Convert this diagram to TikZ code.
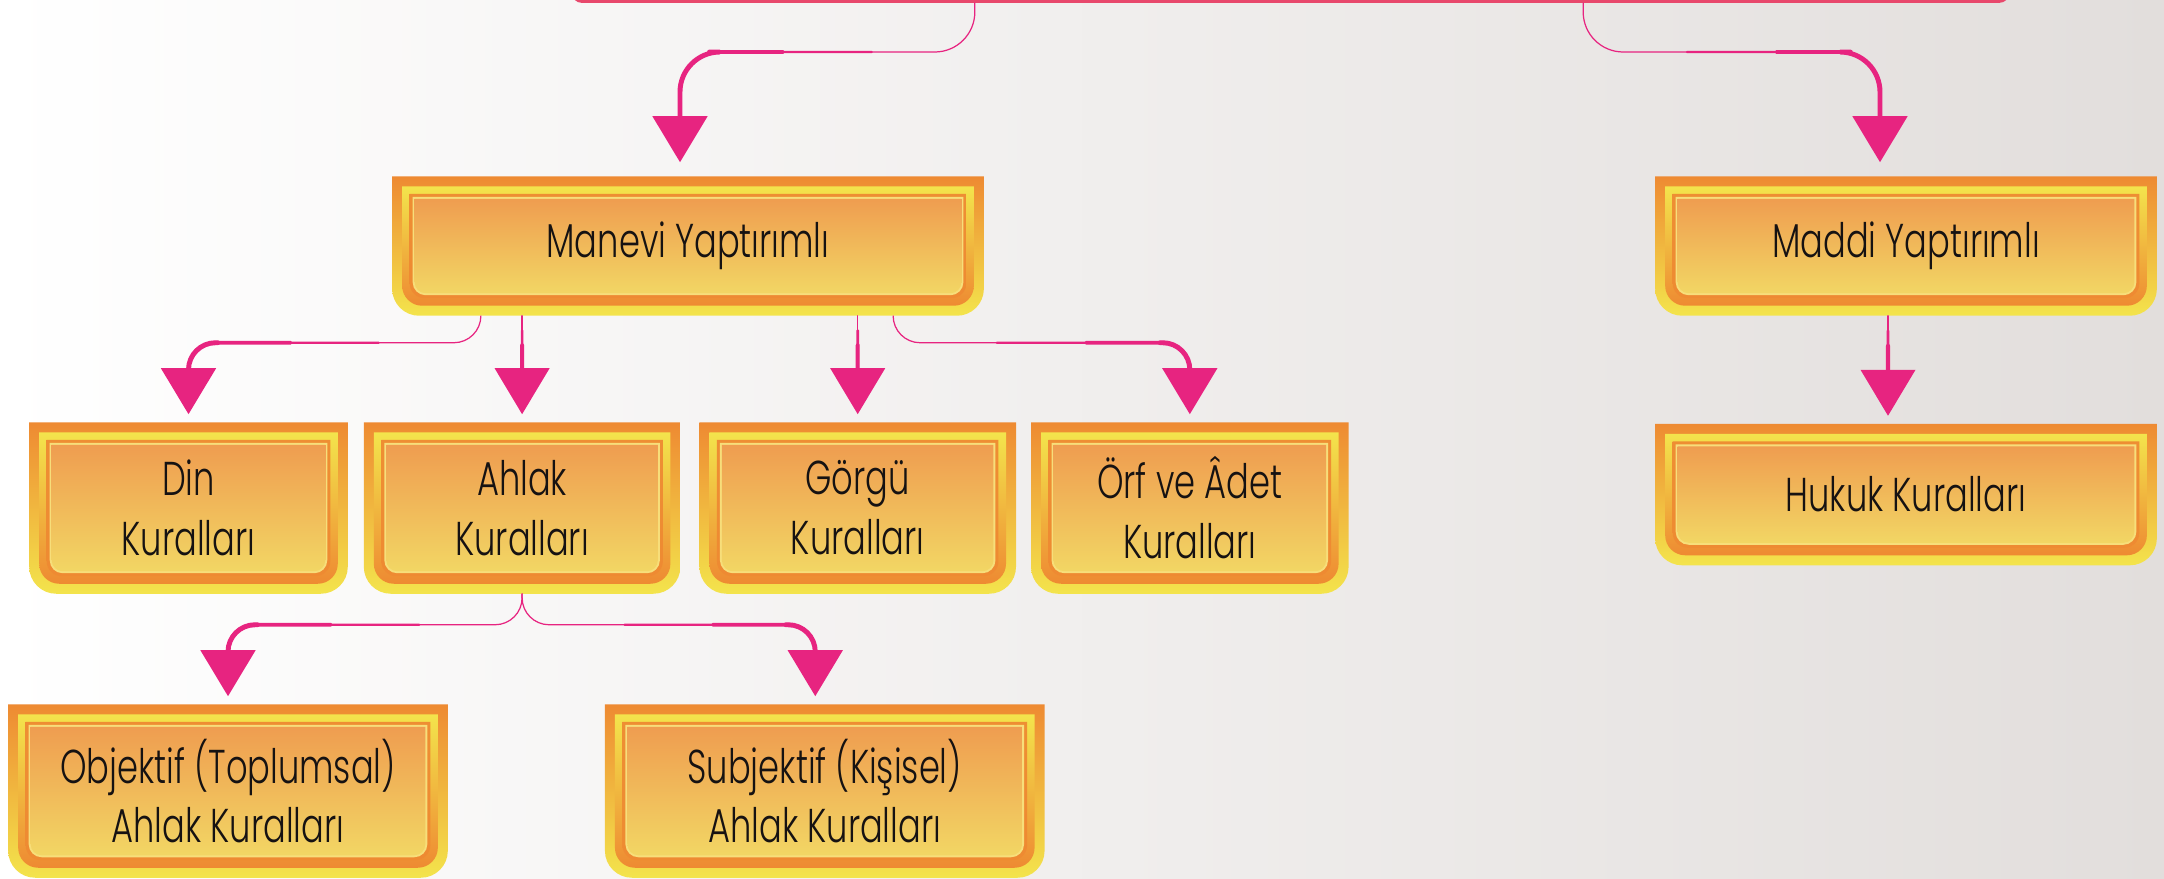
\documentclass[tikz,border=0pt]{standalone}
\usepackage{fontspec}
\setsansfont{Poppins}[FakeStretch=0.71, UprightFont=* Light]
\usetikzlibrary{arrows.meta, calc, positioning}
\definecolor{pembe}{RGB}{231,36,128}
\definecolor{ustkenar}{RGB}{232,72,108}
\definecolor{turuncu}{RGB}{238,138,50}
\definecolor{sari}{RGB}{243,228,76}
\definecolor{icust}{RGB}{239,157,80}
\definecolor{icalt}{RGB}{242,214,100}
\definecolor{solukcizgi}{RGB}{247,222,122}
\definecolor{zeminsag}{RGB}{226,222,220}
\definecolor{yazi}{RGB}{22,18,18}
\tikzstyle{kutu} = [inner sep=0pt, text=yazi, align=center, font=\sffamily\fontsize{13.5}{17}\selectfont]
\tikzstyle{ust} = [draw=ustkenar, line width=1.2pt, fill=white, rounded corners=0.1cm]
\tikzstyle{ok} = [draw=pembe, line cap=round]
\tikzstyle{uc} = [-{Triangle[width=0.54cm,length=0.46cm]}]
\pgfdeclarelayer{zemin}
\pgfdeclarelayer{arka}
\pgfsetlayers{zemin,arka,main}

% one frame layer of a box: node, inset, bottom radius, fill
\newcommand{\katman}[4]{%
  \path[#4] let \p1 = ($(#1.north west)+(#2,-#2)$), \p2 = ($(#1.south east)+(-#2,#2)$) in
    (\x1,\y1) -- (\x1,{\y2+#3}) arc[start angle=180, end angle=270, radius=#3]
    -- ({\x2-#3},\y2) arc[start angle=270, end angle=360, radius=#3] -- (\x2,\y1) -- cycle;}

% bent connector, thin at start and thick at the tip
\newcommand{\kivrim}[4]{%
  \coordinate (b) at (#1);
  \coordinate (s) at (#3);
  \coordinate (k1) at ($(b)+(0,#2)$);
  \coordinate (k2) at (k1 -| s);
  \draw[ok, rounded corners=#4, line width=0.35pt, shorten >=0.2cm] (b) -- (k1) -- (k2) -- (s);
  \draw[ok, rounded corners=#4, line width=0.7pt, shorten >=0.2cm] ($(k1)!0.35!(k2)$) -- (k2) -- (s);
  \draw[ok, rounded corners=#4, line width=1.05pt, shorten >=0.2cm] ($(k1)!0.65!(k2)$) -- (k2) -- (s);
  \draw[ok, uc, rounded corners=#4, line width=1.4pt] ($(k1)!0.9!(k2)$) -- (k2) -- (s);}

% straight connector
\newcommand{\duz}[2]{%
  \coordinate (b) at (#1);
  \coordinate (s) at (#2);
  \draw[ok, line width=0.35pt, shorten >=0.2cm] (b) -- (s);
  \draw[ok, line width=0.75pt, shorten >=0.2cm] ($(b)!0.15!(s)$) -- (s);
  \draw[ok, uc, line width=1.15pt] ($(b)!0.3!(s)$) -- (s);}

\begin{document}
\begin{tikzpicture}[x=0.01cm, y=-0.01cm, node distance=0.16cm]
  \useasboundingbox (0,0) rectangle (2164,879);
  \begin{pgfonlayer}{zemin}
    \fill[left color=white, right color=zeminsag] (0,0) rectangle (2164,879);
  \end{pgfonlayer}
  \clip (0,0) rectangle (2164,879);

  \node[ust, minimum width=14.35cm, minimum height=1cm, anchor=south] (baslik) at (1290.5,3) {};

  \node[kutu, minimum width=5.9cm, minimum height=1.38cm] (manevi) at (688,246) {Manevi Yaptırımlı};
  \node[kutu, minimum width=5cm, minimum height=1.38cm] (maddi) at (1906,246) {Maddi Yaptırımlı};

  \node[kutu, minimum width=3.17cm, minimum height=1.7cm] (din) at (188.5,508) {Din\\Kuralları};
  \node[kutu, minimum width=3.15cm, minimum height=1.7cm, right=of din] (ahlak) {Ahlak\\Kuralları};
  \node[kutu, minimum width=3.15cm, minimum height=1.7cm, right=0.19cm of ahlak] (gorgu) {Görgü\\Kuralları};
  \node[kutu, minimum width=3.16cm, minimum height=1.7cm, right=0.15cm of gorgu] (orf) {Örf ve Âdet\\Kuralları};
  \node[kutu, minimum width=5cm, minimum height=1.4cm, below=1.08cm of maddi] (hukuk) {Hukuk Kuralları};

  \node[kutu, minimum width=4.38cm, minimum height=1.72cm] (objektif) at (228,791) {Objektif (Toplumsal)\\Ahlak Kuralları};
  \node[kutu, minimum width=4.38cm, minimum height=1.72cm, right=1.57cm of objektif] (subjektif) {Subjektif (Kişisel)\\Ahlak Kuralları};

  \begin{pgfonlayer}{arka}
    \foreach \k in {manevi,maddi,din,ahlak,gorgu,orf,hukuk,objektif,subjektif}{
      \katman{\k}{0mm}{2.7mm}{top color=turuncu, bottom color=sari}
      \katman{\k}{1mm}{2mm}{top color=sari, bottom color=turuncu}
      \katman{\k}{1.75mm}{1.5mm}{top color=turuncu!95!sari, bottom color=turuncu}
      \katman{\k}{2.05mm}{1.3mm}{fill=solukcizgi}
      \katman{\k}{2.25mm}{1.1mm}{top color=icust, bottom color=icalt}
    }
  \end{pgfonlayer}

  \kivrim{[xshift=-3.155cm]baslik.south}{49}{[xshift=-0.08cm,yshift=0.14cm]manevi.north}{0.4cm}
  \kivrim{[xshift=2.925cm]baslik.south}{49}{[xshift=-0.26cm,yshift=0.14cm]maddi.north}{0.4cm}

  \kivrim{[xshift=-2.07cm]manevi.south}{27}{[yshift=0.08cm]din.north}{0.27cm}
  \duz{manevi.south -| ahlak.north}{[yshift=0.08cm]ahlak.north}
  \duz{manevi.south -| gorgu.north}{[yshift=0.08cm]gorgu.north}
  \kivrim{[xshift=2.05cm]manevi.south}{27}{[yshift=0.08cm]orf.north}{0.27cm}
  \duz{[xshift=-0.18cm]maddi.south}{[xshift=-0.18cm,yshift=0.08cm]hukuk.north}

  \kivrim{ahlak.south}{31}{[yshift=0.08cm]objektif.north}{0.27cm}
  \kivrim{ahlak.south}{31}{[xshift=-0.095cm,yshift=0.08cm]subjektif.north}{0.27cm}
\end{tikzpicture}
\end{document}
